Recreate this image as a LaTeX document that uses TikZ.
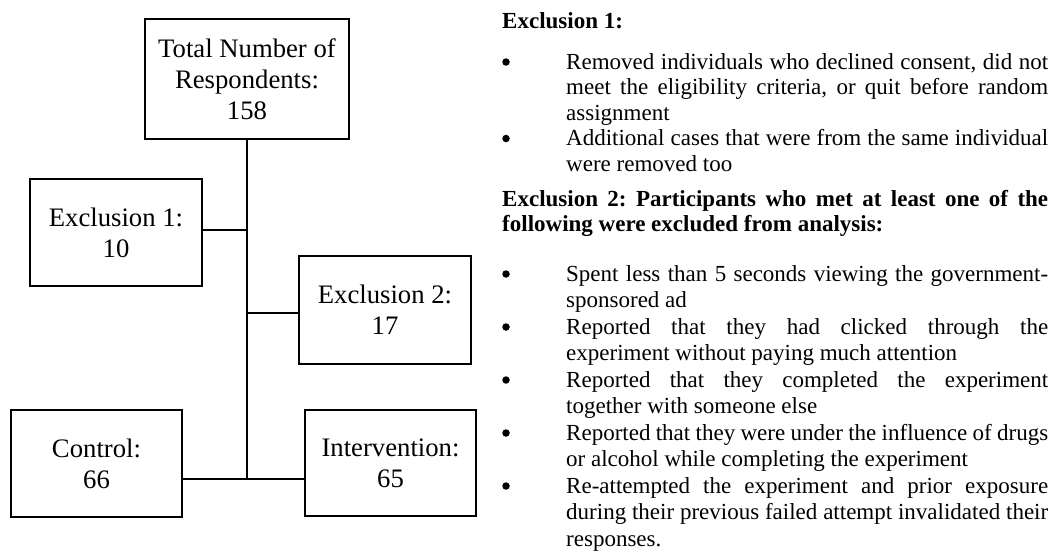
\documentclass[tikz,border=0pt]{standalone}
\usepackage{fontspec}
\setmainfont{Liberation Serif}
\frenchspacing
\newcommand{\boxfnt}{\fontsize{26.7pt}{31pt}\selectfont}
\newcommand{\rfnt}{\fontsize{23pt}{26pt}\selectfont}
\newcommand{\jl}[1]{\makebox[482pt][s]{#1}}
\newcommand{\jh}[1]{\makebox[546pt][s]{#1}}
\begin{document}
\begin{tikzpicture}[x=1pt,y=-1pt,
  box/.style={draw, line width=1.3pt, inner sep=0pt, align=center, font=\boxfnt\frenchspacing},
  conn/.style={line width=1.3pt},
  txt/.style={anchor=base west, inner sep=0pt, font=\rfnt\frenchspacing},
  hd/.style={anchor=base west, inner sep=0pt, font=\rfnt\bfseries\frenchspacing},
  bul/.style={circle, fill=black, inner sep=0pt, minimum size=7.5pt}]
\useasboundingbox (0,0) rectangle (1055,552);
% boxes
\node[box, minimum width=204pt, minimum height=120pt] (total) at (247,79) {Total Number of\\Respondents:\\158};
\node[box, minimum width=172pt, minimum height=107pt] (ex1) at (116,232.5) {Exclusion 1:\\10};
\node[box, minimum width=172pt, minimum height=108pt] (ex2) at (385,310) {Exclusion 2:\\17};
\node[box, minimum width=171pt, minimum height=107pt] (ctrl) at (96.5,463.5) {Control:\\66};
\node[box, minimum width=171pt, minimum height=106pt] (intv) at (390.5,463) {Intervention:\\65};
% connectors
\coordinate (hub) at (247,479);
\coordinate (j1) at (247,230);
\coordinate (j2) at (247,313);
\draw[conn] (total.south) -- (hub);
\draw[conn] (ex1.east |- j1) -- (j1);
\draw[conn] (j2) -- (ex2.west |- j2);
\draw[conn] (ctrl.east |- hub) -- (intv.west |- hub);
% right text
\node[hd] (h1) at (502,28) {Exclusion 1:};
\node[bul] (b1) at (506,62) {};
\node[txt] (t1a) at (566,69) {\jl{Removed individuals who declined consent, did not}};
\node[txt] (t1b) at (566,94.5) {\jl{meet the eligibility criteria, or quit before random}};
\node[txt] (t1c) at (566,120) {assignment};
\node[bul] (b2) at (506,138.5) {};
\node[txt] (t2a) at (566,145.5) {\jl{Additional cases that were from the same individual}};
\node[txt] (t2b) at (566,171) {were removed too};
\node[hd] (h2a) at (502,206) {\jh{Exclusion 2: Participants who met at least one of the}};
\node[hd] (h2b) at (502,231) {following were excluded from analysis:};
\node[bul] (b3) at (506,274) {};
\node[txt] (t3a) at (566,281) {\jl{Spent less than 5 seconds viewing the government-}};
\node[txt] (t3b) at (566,307.5) {sponsored ad};
\node[bul] (b4) at (506,327) {};
\node[txt] (t4a) at (566,334) {\jl{Reported that they had clicked through the}};
\node[txt] (t4b) at (566,360.5) {experiment without paying much attention};
\node[bul] (b5) at (506,380) {};
\node[txt] (t5a) at (566,387) {\jl{Reported that they completed the experiment}};
\node[txt] (t5b) at (566,413.5) {together with someone else};
\node[bul] (b6) at (506,433) {};
\node[txt] (t6a) at (566,440) {\jl{Reported that they were under the influence of drugs}};
\node[txt] (t6b) at (566,466.5) {or alcohol while completing the experiment};
\node[bul] (b7) at (506,486) {};
\node[txt] (t7a) at (566,493) {\jl{Re-attempted the experiment and prior exposure}};
\node[txt] (t7b) at (566,519.5) {\jl{during their previous failed attempt invalidated their}};
\node[txt] (t7c) at (566,546) {responses.};
\end{tikzpicture}
\end{document}
